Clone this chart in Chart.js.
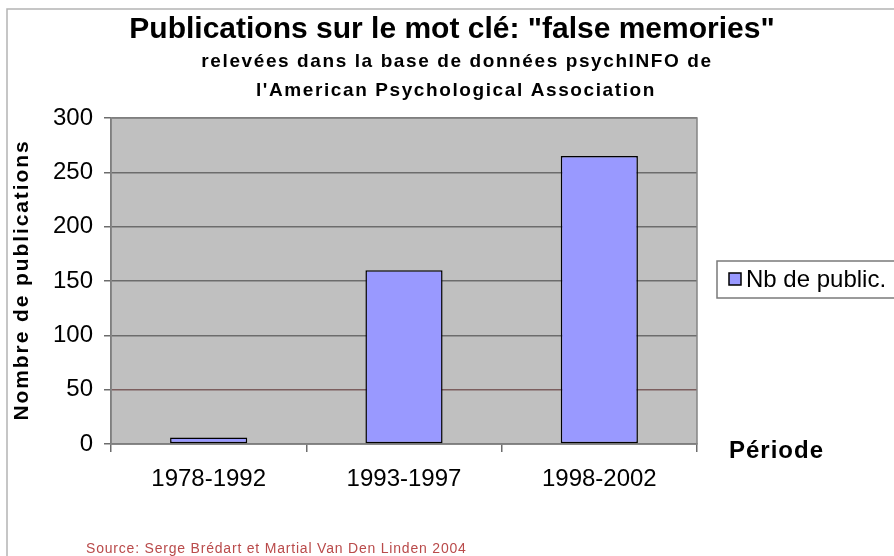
<!DOCTYPE html>
<html>
<head>
<meta charset="utf-8">
<script src="https://cdn.jsdelivr.net/npm/chart.js@4/dist/chart.umd.min.js"></script>
<style>
  html, body { margin: 0; padding: 0; background: #fff; }
  #wrap { width: 894px; height: 556px; }
</style>
</head>
<body>
<div id="wrap"><canvas id="myChart" width="894" height="556"></canvas></div>
<script>
'use strict';

// Data
var categories = ['1978-1992', '1993-1997', '1998-2002'];
var publications = [6, 160, 265];
var seriesLabel = 'Nb de public.';
var yMax = 300;
var yStep = 50;

var titleLines = [
  'Publications sur le mot clé: "false memories"',
  'relevées dans la base de données psychINFO de',
  "l'American Psychological Association"
];
var xTitle = 'Période';
var yTitle = 'Nombre de publications';
var sourceText = 'Source: Serge Brédart et Martial Van Den Linden 2004';

var FONT = "'Liberation Sans', Arial, sans-serif";
var gridGrey = '#6c6c6c';

// Background, frame and extra texts
var decor = {
  id: 'decor',
  beforeDraw: function(chart) {
    var c = chart.ctx;
    var a = chart.chartArea;
    c.save();
    c.fillStyle = '#fff';
    c.fillRect(0, 0, chart.width, chart.height);
    // outer border
    c.strokeStyle = '#b4b4b4';
    c.lineWidth = 1.5;
    c.beginPath();
    c.moveTo(7, chart.height);
    c.lineTo(7, 9);
    c.lineTo(chart.width, 9);
    c.stroke();
    // plot area
    c.fillStyle = '#c0c0c0';
    c.fillRect(a.left, a.top, a.right - a.left, a.bottom - a.top);
    c.restore();
  },
  beforeDatasetsDraw: function(chart) {
    var c = chart.ctx;
    var a = chart.chartArea;
    c.save();
    c.strokeStyle = '#858585';
    c.lineWidth = 1.5;
    c.strokeRect(a.left, a.top, a.right - a.left, a.bottom - a.top);
    c.restore();
  },
  afterDraw: function(chart) {
    var c = chart.ctx;
    var a = chart.chartArea;
    c.save();
    c.fillStyle = '#000';
    c.textAlign = 'center';
    c.textBaseline = 'middle';

    c.font = 'bold 30px ' + FONT;
    c.fillText(titleLines[0], 452, 30);

    c.font = 'bold 19px ' + FONT;
    c.letterSpacing = '1.6px';
    c.fillText(titleLines[1], 457, 62);
    c.fillText(titleLines[2], 456, 91);

    // y axis title
    c.save();
    c.translate(22, (a.top + a.bottom) / 2);
    c.rotate(-Math.PI / 2);
    c.font = 'bold 21px ' + FONT;
    c.letterSpacing = '1.9px';
    c.fillText(yTitle, 1, 0);
    c.restore();

    // x axis title
    c.textAlign = 'left';
    c.font = 'bold 24px ' + FONT;
    c.letterSpacing = '1px';
    c.fillText(xTitle, 729, 451);
    c.letterSpacing = '0px';

    // legend
    var ds = chart.data.datasets[0];
    c.strokeStyle = '#7a7a7a';
    c.lineWidth = 1.5;
    c.fillStyle = '#fff';
    c.fillRect(717, 261, 200, 37);
    c.strokeRect(717, 261, 200, 37);
    c.fillStyle = ds.backgroundColor;
    c.fillRect(729, 273, 12, 12);
    c.strokeStyle = '#000';
    c.lineWidth = 1.5;
    c.strokeRect(729, 273, 12, 12);
    c.fillStyle = '#000';
    c.font = '24px ' + FONT;
    c.fillText(ds.label, 746, 280);

    // source
    c.fillStyle = '#b94a4a';
    c.font = '14px ' + FONT;
    c.letterSpacing = '0.8px';
    c.fillText(sourceText, 86, 549);
    c.restore();
  }
};

var ctx = document.getElementById('myChart').getContext('2d');

var chart = new Chart(ctx, {
  type: 'bar',
  data: {
    labels: categories,
    datasets: [
      {
        label: seriesLabel,
        backgroundColor: '#9999ff',
        borderColor: '#000',
        borderWidth: 1.5,
        borderSkipped: false,
        barPercentage: 0.395,
        categoryPercentage: 1,
        data: publications
      }
    ]
  },
  options: {
    responsive: false,
    animation: false,
    devicePixelRatio: 1,
    layout: { padding: { top: 118, right: 197, bottom: 0, left: 0 } },
    plugins: {
      legend: { display: false },
      title: { display: false },
      tooltip: { enabled: false }
    },
    scales: {
      x: {
        grid: {
          offset: true,
          drawOnChartArea: false,
          drawTicks: true,
          tickLength: 8,
          tickColor: gridGrey,
          lineWidth: 1.5
        },
        border: { color: gridGrey, width: 1.5 },
        ticks: {
          color: '#000',
          padding: 13,
          maxRotation: 0,
          font: { family: FONT, size: 24 }
        },
        afterFit: function(s) { s.height = 112; }
      },
      y: {
        min: 0,
        max: yMax,
        grid: {
          color: function(c) { return c.tick && c.tick.value === 50 ? '#7c5e5e' : gridGrey; },
          lineWidth: 1.5,
          drawTicks: true,
          tickLength: 7,
          tickColor: gridGrey
        },
        border: { color: gridGrey, width: 1.5 },
        ticks: {
          stepSize: yStep,
          color: '#000',
          padding: 11,
          font: { family: FONT, size: 24 }
        },
        afterFit: function(s) { s.width = 111; }
      }
    }
  },
  plugins: [decor]
});
</script>
</body>
</html>
